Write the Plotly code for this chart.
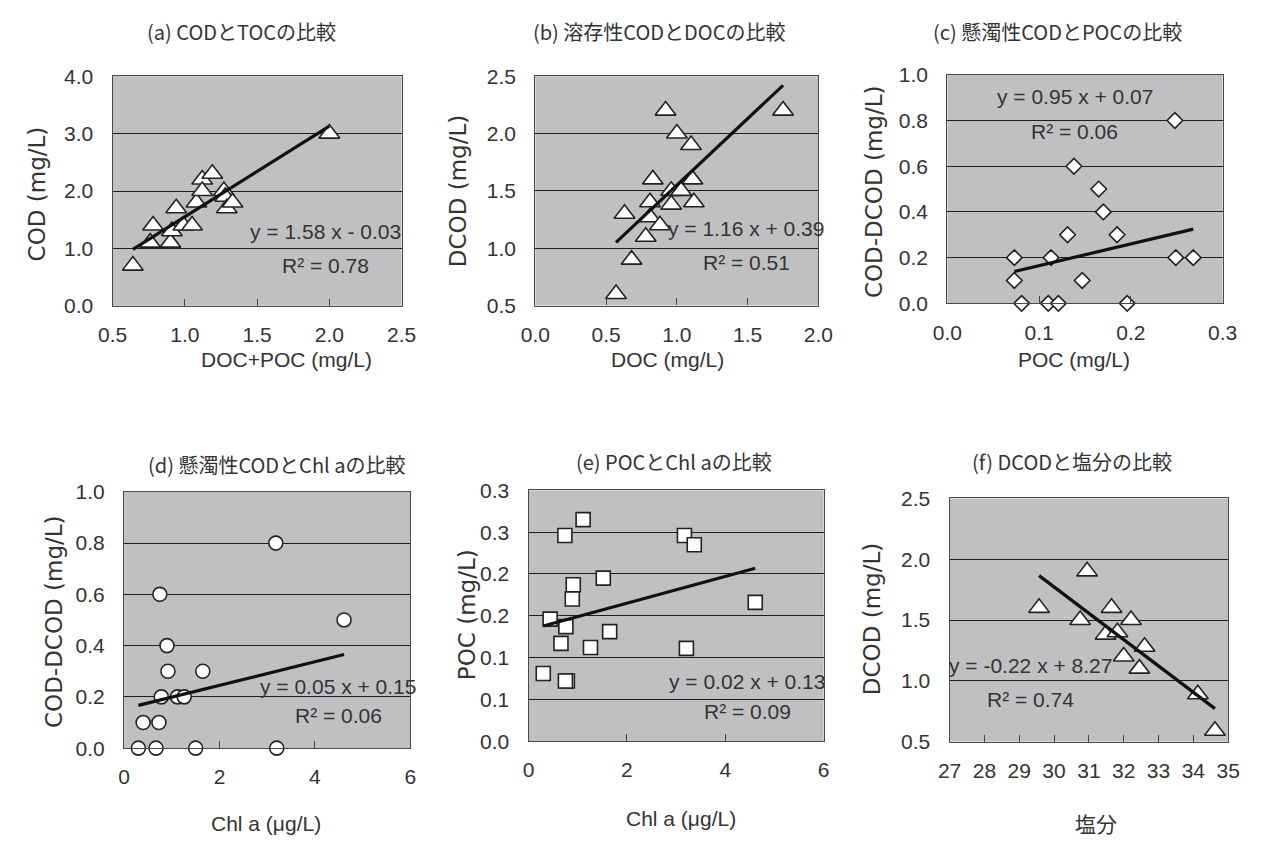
import plotly.graph_objects as go

W, H = 1263, 847

# ---- data -------------------------------------------------------------
# (a) COD vs DOC+POC
a_x = [0.64, 0.76, 0.78, 0.90, 0.91, 0.94, 0.99, 1.05, 1.08, 1.12, 1.12, 1.19, 1.27, 1.28, 1.29, 1.33, 2.00]
a_y = [0.70, 1.10, 1.40, 1.10, 1.30, 1.70, 1.40, 1.40, 1.80, 2.20, 2.00, 2.30, 2.00, 1.90, 1.70, 1.80, 3.00]
a_fit = (1.58, -0.03)
a_r2 = 0.78

# (b) DCOD vs DOC
b_x = [0.57, 0.68, 0.63, 0.78, 0.81, 0.81, 0.83, 0.88, 0.92, 0.96, 0.96, 1.00, 1.03, 1.10, 1.11, 1.12, 1.75]
b_y = [0.60, 0.90, 1.30, 1.10, 1.27, 1.40, 1.60, 1.20, 2.20, 1.50, 1.38, 2.00, 1.50, 1.90, 1.60, 1.40, 2.20]
b_fit = (1.16, 0.39)
b_r2 = 0.51

# (c) COD-DCOD vs POC
c_x = [0.073, 0.073, 0.081, 0.110, 0.121, 0.113, 0.131, 0.138, 0.147, 0.165, 0.170, 0.185, 0.196, 0.248, 0.249, 0.268]
c_y = [0.20, 0.10, 0.00, 0.00, 0.00, 0.20, 0.30, 0.60, 0.10, 0.50, 0.40, 0.30, 0.00, 0.80, 0.20, 0.20]
c_fit = (0.95, 0.07)
c_r2 = 0.06

# (d) COD-DCOD vs Chl a
d_x = [0.30, 0.67, 1.50, 3.20, 0.40, 0.73, 0.78, 1.12, 1.26, 0.92, 1.65, 0.90, 0.75, 3.18, 4.61]
d_y = [0.00, 0.00, 0.00, 0.00, 0.10, 0.10, 0.20, 0.20, 0.20, 0.30, 0.30, 0.40, 0.60, 0.80, 0.50]
d_fit = (0.046, 0.153)
d_r2 = 0.06

# (e) POC vs Chl a
e_x = [0.30, 0.44, 0.74, 1.11, 0.91, 0.89, 0.76, 0.66, 0.79, 0.75, 1.26, 1.52, 1.65, 3.17, 3.37, 3.21, 4.61]
e_y = [0.081, 0.146, 0.246, 0.265, 0.187, 0.170, 0.137, 0.117, 0.072, 0.072, 0.112, 0.195, 0.131, 0.246, 0.235, 0.111, 0.166]
e_fit = (0.016, 0.133)
e_r2 = 0.09
e_ytick_vals = [0.0, 0.05, 0.10, 0.15, 0.20, 0.25, 0.30]
e_ytick_text = ["0.0", "0.1", "0.1", "0.2", "0.2", "0.3", "0.3"]

# (f) DCOD vs salinity
f_x = [29.57, 30.95, 30.75, 31.48, 31.65, 31.82, 32.00, 32.21, 32.45, 32.60, 34.13, 34.62]
f_y = [1.60, 1.90, 1.50, 1.38, 1.60, 1.40, 1.20, 1.50, 1.10, 1.28, 0.89, 0.59]
f_fit = (-0.2166, 8.27)
f_r2 = 0.74

titles = ["(a) CODとTOCの比較", "(b) 溶存性CODとDOCの比較", "(c) 懸濁性CODとPOCの比較",
          "(d) 懸濁性CODとChl aの比較", "(e) POCとChl aの比較", "(f) DCODと塩分の比較"]
x_titles = ["DOC+POC (mg/L)", "DOC (mg/L)", "POC (mg/L)", "Chl a (μg/L)", "Chl a (μg/L)", "塩分"]
y_titles = ["COD (mg/L)", "DCOD (mg/L)", "COD-DCOD (mg/L)", "COD-DCOD (mg/L)", "POC (mg/L)", "DCOD (mg/L)"]

# ---- styling -----------------------------------------------------------
TXT = "#333333"
SANS = "Liberation Sans, Arial, sans-serif"
TICK_FONT = dict(family=SANS, size=21, color=TXT)
NOTE_FONT = dict(family=SANS, size=21, color=TXT)
XT_FONT = dict(family=SANS, size=21, color=TXT)
YT_FONT = dict(family="DejaVu Sans, Liberation Sans, sans-serif", size=23, color=TXT)
JP_FONT = dict(family="Noto Sans CJK JP, sans-serif", size=20, color=TXT)
PLOT_BG = "#c0c0c2"
GRID = "#1e1e1e"
EDGE = "#222222"


def px(x):
    return x / W


def py(y):
    return 1 - y / H


# panel frames in page pixels: (left, right, top, bottom)
frames = [
    (100, 396, 66, 302), (533, 823, 66, 301.7), (955, 1237, 64.5, 299.5),
    (111.7, 405, 493.2, 756.7), (526, 828.3, 491.7, 749.5), (957.3, 1242.7, 500, 750),
]

panels = [
    dict(x=a_x, y=a_y, fit=a_fit, r2=a_r2, sym="triangle-up", size=18,
         xr=[0.5, 2.5], xd=0.5, xf=".1f", yr=[0, 4], yd=1, yf=".1f",
         eq=(1.97, 1.30), rq=(1.97, 0.71)),
    dict(x=b_x, y=b_y, fit=b_fit, r2=b_r2, sym="triangle-up", size=18,
         xr=[0, 2.0], xd=0.5, xf=".1f", yr=[0.5, 2.5], yd=0.5, yf=".1f",
         eq=(1.49, 1.175), rq=(1.49, 0.879)),
    dict(x=c_x, y=c_y, fit=c_fit, r2=c_r2, sym="diamond", size=12,
         xr=[0, 0.3], xd=0.1, xf=".1f", yr=[0, 1.0], yd=0.2, yf=".1f",
         eq=(0.1386, 0.904), rq=(0.1386, 0.751)),
    dict(x=d_x, y=d_y, fit=d_fit, r2=d_r2, sym="circle", size=14,
         xr=[0, 6], xd=2, xf="d", yr=[0, 1.0], yd=0.2, yf=".1f",
         eq=(4.49, 0.24), rq=(4.49, 0.127)),
    dict(x=e_x, y=e_y, fit=e_fit, r2=e_r2, sym="square", size=14,
         xr=[0, 6], xd=2, xf="d", yr=[0, 0.3], yd=None, yf=None,
         eq=(4.45, 0.071), rq=(4.45, 0.036)),
    dict(x=f_x, y=f_y, fit=f_fit, r2=f_r2, sym="triangle-up", size=18,
         xr=[27, 35], xd=1, xf="d", yr=[0.5, 2.5], yd=0.5, yf=".1f",
         eq=(29.32, 1.126), rq=(29.32, 0.846)),
]

# centres of the panel titles, x titles and y titles (page pixels)
title_pos = [(232, 20), (660, 20), (1068, 20), (268, 465), (675, 462), (1083, 462)]
xtitle_pos = [(278, 357), (668, 357), (1085, 357), (257, 834), (682, 829), (1107, 834)]
ytitle_pos = [(22, 187), (454, 184), (880, 185), (40, 627), (463, 620), (878, 624)]

fig = go.Figure()
layout = dict(
    width=W, height=H, margin=dict(l=0, r=0, t=0, b=0),
    paper_bgcolor="white", plot_bgcolor=PLOT_BG, showlegend=False,
)
annotations = []

for i, (p, fr) in enumerate(zip(panels, frames), start=1):
    sfx = "" if i == 1 else str(i)
    xa, ya = "x" + sfx, "y" + sfx
    l, r, t, b = fr

    fig.add_trace(go.Scatter(
        x=p["x"], y=p["y"], mode="markers", xaxis=xa, yaxis=ya, cliponaxis=False,
        marker=dict(symbol=p["sym"], size=p["size"], color="white",
                    line=dict(color=EDGE, width=1.6)),
        hoverinfo="x+y",
    ))
    m, c0 = p["fit"]
    x0, x1 = min(p["x"]), max(p["x"])
    fig.add_trace(go.Scatter(
        x=[x0, x1], y=[m * x0 + c0, m * x1 + c0], mode="lines", xaxis=xa, yaxis=ya,
        line=dict(color="#111111", width=3.2), hoverinfo="skip",
    ))

    xaxis = dict(
        domain=[px(l), px(r)], range=p["xr"], anchor=ya, dtick=p["xd"], tick0=p["xr"][0],
        tickformat=p["xf"], showgrid=False, zeroline=False,
        ticks="inside", ticklen=7, tickcolor="#444444", tickwidth=1,
        showline=True, mirror=True, linecolor="#4a4a4a", linewidth=1.2,
        tickfont=TICK_FONT, ticklabelstandoff=10,
    )
    yaxis = dict(
        domain=[py(b), py(t)], range=p["yr"], anchor=xa,
        showgrid=True, gridcolor=GRID, gridwidth=1, zeroline=False,
        ticks="", showline=True, mirror=True, linecolor="#4a4a4a", linewidth=1.2,
        tickfont=TICK_FONT, ticklabelstandoff=14,
    )
    if p["yd"] is None:
        yaxis.update(tickmode="array", tickvals=e_ytick_vals, ticktext=e_ytick_text)
    else:
        yaxis.update(dtick=p["yd"], tick0=p["yr"][0], tickformat=p["yf"])
    layout["xaxis" + sfx] = xaxis
    layout["yaxis" + sfx] = yaxis

    # regression equation and R²
    sign = "+" if c0 >= 0 else "-"
    eq_txt = f"y = {m:.2f} x {sign} {abs(c0):.2f}"
    annotations.append(dict(x=p["eq"][0], y=p["eq"][1], xref=xa, yref=ya, text=eq_txt,
                            showarrow=False, font=NOTE_FONT,
                            xanchor="center", yanchor="middle"))
    annotations.append(dict(x=p["rq"][0], y=p["rq"][1], xref=xa, yref=ya,
                            text=f"R² = {p['r2']:.2f}",
                            showarrow=False, font=NOTE_FONT,
                            xanchor="center", yanchor="middle"))

    # titles
    tx, ty = title_pos[i - 1]
    annotations.append(dict(x=px(tx), y=py(ty), xref="paper", yref="paper", text=titles[i - 1],
                            showarrow=False, font=JP_FONT, xanchor="center", yanchor="middle"))
    xx, xy = xtitle_pos[i - 1]
    xfont = dict(JP_FONT, size=21) if i == 6 else XT_FONT
    annotations.append(dict(x=px(xx), y=py(xy), xref="paper", yref="paper", text=x_titles[i - 1],
                            showarrow=False, font=xfont, xanchor="center", yanchor="middle"))
    yx, yy = ytitle_pos[i - 1]
    annotations.append(dict(x=px(yx), y=py(yy), xref="paper", yref="paper", text=y_titles[i - 1],
                            showarrow=False, font=YT_FONT, textangle=-90,
                            xanchor="center", yanchor="middle"))

layout["annotations"] = annotations
fig.update_layout(**layout)
fig.write_html("out.html")
